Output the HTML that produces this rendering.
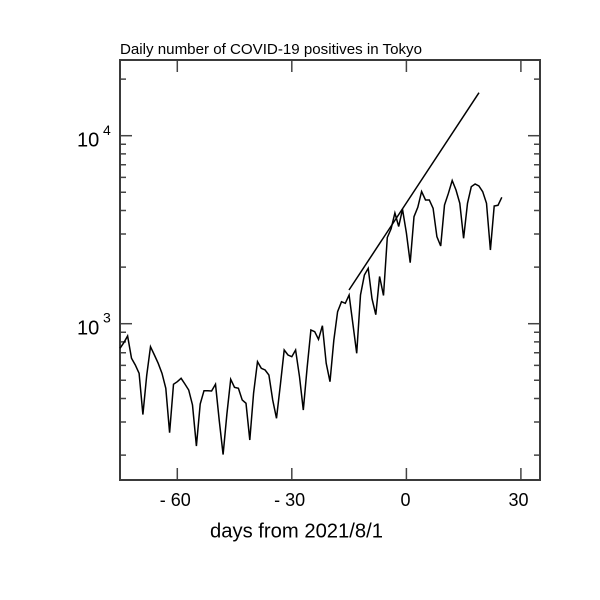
<!DOCTYPE html>
<html>
<head>
<meta charset="utf-8">
<style>
  html,body{margin:0;padding:0;background:#fff;}
  svg{display:block;}
  text{font-family:"Liberation Sans", Arial, sans-serif; fill:#000;}
</style>
</head>
<body>
<svg width="600" height="600" viewBox="0 0 600 600" xmlns="http://www.w3.org/2000/svg">
  <rect width="600" height="600" fill="#fff"/>

  <!-- title -->
  <text x="120" y="54" font-size="14.5" textLength="302" lengthAdjust="spacingAndGlyphs">Daily number of COVID-19 positives in Tokyo</text>

  <!-- ticks -->
  <g stroke="#444" stroke-width="1.5" fill="none">
    <!-- x ticks top -->
    <line x1="177.3" y1="60" x2="177.3" y2="72"/>
    <line x1="291.8" y1="60" x2="291.8" y2="72"/>
    <line x1="406.4" y1="60" x2="406.4" y2="72"/>
    <line x1="520.9" y1="60" x2="520.9" y2="72"/>
    <!-- x ticks bottom -->
    <line x1="177.3" y1="480" x2="177.3" y2="468"/>
    <line x1="291.8" y1="480" x2="291.8" y2="468"/>
    <line x1="406.4" y1="480" x2="406.4" y2="468"/>
    <line x1="520.9" y1="480" x2="520.9" y2="468"/>
    <!-- left major -->
    <line x1="120" y1="135.7" x2="132" y2="135.7"/>
    <line x1="120" y1="323.7" x2="132" y2="323.7"/>
    <!-- right major -->
    <line x1="540" y1="135.7" x2="528" y2="135.7"/>
    <line x1="540" y1="323.7" x2="528" y2="323.7"/>
    <!-- left minor -->
    <path d="M120 79.1h6 M120 144.3h6 M120 153.9h6 M120 164.8h6 M120 177.4h6 M120 192.3h6 M120 210.5h6 M120 234h6 M120 267.1h6 M120 332.3h6 M120 341.9h6 M120 352.8h6 M120 365.4h6 M120 380.3h6 M120 398.5h6 M120 422h6 M120 455.1h6"/>
    <!-- right minor -->
    <path d="M540 79.1h-6 M540 144.3h-6 M540 153.9h-6 M540 164.8h-6 M540 177.4h-6 M540 192.3h-6 M540 210.5h-6 M540 234h-6 M540 267.1h-6 M540 332.3h-6 M540 341.9h-6 M540 352.8h-6 M540 365.4h-6 M540 380.3h-6 M540 398.5h-6 M540 422h-6 M540 455.1h-6"/>
  </g>

  <!-- frame -->
  <rect x="120" y="60" width="420" height="420" fill="none" stroke="#3a3a3a" stroke-width="2"/>

  <!-- data -->
  <polyline fill="none" stroke="#000" stroke-width="1.5" stroke-linejoin="miter" points="
120.0,348.3 123.8,342.7 127.6,336.0 131.5,358.3 135.3,365.0 139.1,373.3 142.9,414.5 146.7,375.5
150.5,346.7 154.4,355.0 158.2,363.3 162.0,373.3 165.8,388.3 169.6,432.7 173.5,384.3 177.3,381.7
181.1,378.3 184.9,384.0 188.7,390.0 192.5,405.0 196.4,446.0 200.2,404.0 204.0,390.7 207.8,390.7
211.6,391.0 215.5,384.3 219.3,421.0 223.1,454.5 226.9,414.0 230.7,379.3 234.5,387.3 238.4,388.3
242.2,400.0 246.0,403.3 249.8,440.0 253.6,393.0 257.5,361.7 261.3,368.3 265.1,370.0 268.9,375.0
272.7,400.0 276.5,418.3 280.4,384.5 284.2,350.0 288.0,355.0 291.8,356.7 295.6,350.0 299.5,376.7
303.3,410.0 307.1,368.0 310.9,330.0 314.7,331.7 318.5,339.3 322.4,325.7 326.2,363.3 330.0,381.7
333.8,340.5 337.6,311.7 341.5,301.7 345.3,303.3 349.1,295.0 352.9,324.0 356.7,353.3 360.5,295.0
364.4,275.0 368.2,268.3 372.0,298.7 375.8,314.7 379.6,276.5 383.5,295.5 387.3,237.5 391.1,228.8
394.9,213.0 398.7,226.5 402.5,209.3 406.4,233.0 410.2,262.7 414.0,216.7 417.8,207.3 421.6,191.5
425.5,200.0 429.3,200.0 433.1,208.3 436.9,236.7 440.7,246.0 444.5,205.0 448.4,193.3 452.2,180.5
456.0,190.0 459.8,203.3 463.6,238.3 467.5,203.3 471.3,186.7 475.1,184.0 478.9,186.0 482.7,191.7
486.5,203.3 490.4,250.0 494.2,206.0 498.0,205.3 501.8,197.3"/>

  <!-- fit line -->
  <line x1="349" y1="290" x2="479" y2="92.7" stroke="#000" stroke-width="1.5"/>

  <!-- y labels -->
  <text x="77" y="146.7" font-size="20">10</text>
  <text x="103" y="135" font-size="14">4</text>
  <text x="77" y="334.5" font-size="20">10</text>
  <text x="103" y="322.5" font-size="14">3</text>

  <!-- x labels -->
  <text x="175.3" y="506" font-size="18" text-anchor="middle">- 60</text>
  <text x="289.7" y="506" font-size="18" text-anchor="middle">- 30</text>
  <text x="405.5" y="506" font-size="18" text-anchor="middle">0</text>
  <text x="518.5" y="506" font-size="18" text-anchor="middle">30</text>

  <!-- x axis title -->
  <text x="210" y="537.5" font-size="20" textLength="173" lengthAdjust="spacingAndGlyphs">days from 2021/8/1</text>
</svg>
</body>
</html>
